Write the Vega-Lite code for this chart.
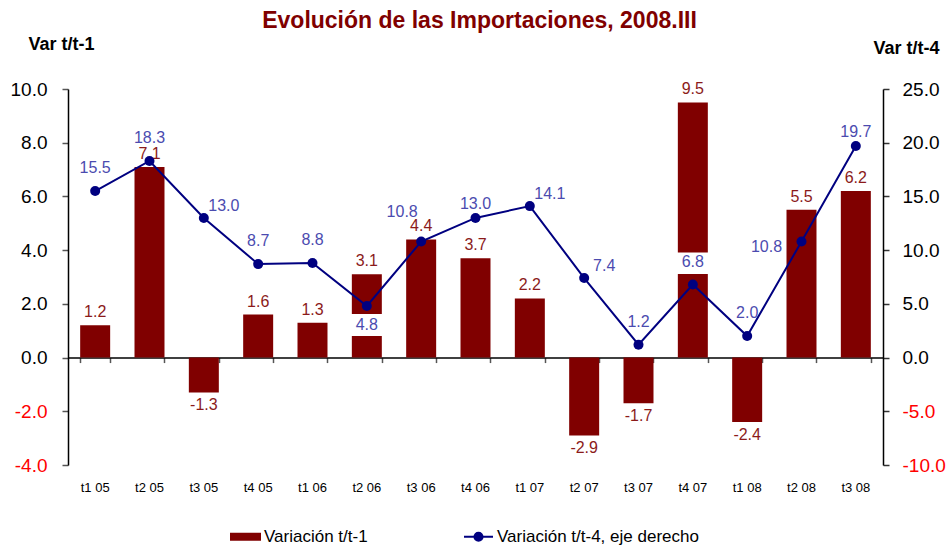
{
  "$schema": "https://vega.github.io/schema/vega-lite/v6.json",
  "width": 815,
  "height": 376,
  "autosize": {"type": "none"},
  "padding": {"left": 68, "top": 89, "right": 66, "bottom": 83},
  "background": "white",
  "config": {
    "view": {"stroke": null},
    "font": "Liberation Sans",
    "locale": {"number": {"decimal": ".", "thousands": ",", "grouping": [3], "currency": ["", ""], "minus": "-"}}
  },
  "title": {
    "text": "Evolución de las Importaciones, 2008.III",
    "font": "Liberation Sans",
    "fontSize": 23,
    "fontWeight": "bold",
    "color": "#800000",
    "anchor": "middle",
    "frame": "group",
    "offset": 2,
    "dx": 4
  },
  "data": {
    "values": [
      {"trimestre": "t1 05", "var_t1": 1.2, "var_t4": 15.5},
      {"trimestre": "t2 05", "var_t1": 7.1, "var_t4": 18.3},
      {"trimestre": "t3 05", "var_t1": -1.3, "var_t4": 13.0},
      {"trimestre": "t4 05", "var_t1": 1.6, "var_t4": 8.7},
      {"trimestre": "t1 06", "var_t1": 1.3, "var_t4": 8.8},
      {"trimestre": "t2 06", "var_t1": 3.1, "var_t4": 4.8},
      {"trimestre": "t3 06", "var_t1": 4.4, "var_t4": 10.8},
      {"trimestre": "t4 06", "var_t1": 3.7, "var_t4": 13.0},
      {"trimestre": "t1 07", "var_t1": 2.2, "var_t4": 14.1},
      {"trimestre": "t2 07", "var_t1": -2.9, "var_t4": 7.4},
      {"trimestre": "t3 07", "var_t1": -1.7, "var_t4": 1.2},
      {"trimestre": "t4 07", "var_t1": 9.5, "var_t4": 6.8},
      {"trimestre": "t1 08", "var_t1": -2.4, "var_t4": 2.0},
      {"trimestre": "t2 08", "var_t1": 5.5, "var_t4": 10.8},
      {"trimestre": "t3 08", "var_t1": 6.2, "var_t4": 19.7}
    ]
  },
  "layer": [
    {
      "encoding": {
        "x": {
          "field": "trimestre",
          "type": "nominal",
          "sort": null,
          "scale": {"type": "band", "paddingInner": 0.448, "paddingOuter": 0.224},
          "axis": {
            "orient": "bottom",
            "title": null,
            "domain": false,
            "ticks": false,
            "tickSize": 0,
            "labelAngle": 0,
            "labelFont": "Liberation Sans",
            "labelFontSize": 13,
            "labelColor": "black",
            "labelPadding": 16,
            "grid": false
          }
        },
        "y": {
          "field": "var_t1",
          "type": "quantitative",
          "scale": {"domain": [-4, 10], "nice": false, "zero": false},
          "axis": {
            "orient": "left",
            "values": [-4, -2, 0, 2, 4, 6, 8, 10],
            "format": ".1f",
            "grid": false,
            "domainColor": "black",
            "domainWidth": 1.5,
            "tickColor": "#555555",
            "tickSize": 6,
            "tickWidth": 1.5,
            "labelFont": "Liberation Sans",
            "labelFontSize": 19,
            "labelColor": {"condition": {"test": "datum.value < 0", "value": "#FF0000"}, "value": "black"},
            "labelPadding": 15,
            "title": "Var t/t-1",
            "titleAngle": 0,
            "titleFont": "Liberation Sans",
            "titleFontSize": 18,
            "titleFontWeight": "bold",
            "titleColor": "black",
            "titleAlign": "center",
            "titleBaseline": "alphabetic",
            "titleX": -7,
            "titleY": -40
          }
        }
      },
      "layer": [
        {
          "mark": {"type": "bar", "color": "#800000"},
          "encoding": {
            "color": {
              "datum": "Variación t/t-1",
              "scale": {
                "domain": ["Variación t/t-1", "Variación t/t-4, eje derecho"],
                "range": ["#800000", "#000080"]
              },
              "legend": {
                "title": null,
                "orient": "none",
                "direction": "horizontal",
                "legendX": 162,
                "legendY": 432,
                "symbolSize": 841,
                "labelFont": "Liberation Sans",
                "labelFontSize": 17,
                "labelColor": "black",
                "labelOffset": 3,
                "labelLimit": 0,
                "columnPadding": 92,
                "encode": {
                  "symbols": {
                    "update": {
                      "shape": [
                        {"test": "datum.value === 'Variación t/t-1'", "value": "M-1,-0.2H1V0.2H-1Z"},
                        {"value": "M-1,0H1M-0.28,0A0.28,0.28 0 1,1 0.28,0A0.28,0.28 0 1,1 -0.28,0Z"}
                      ],
                      "fill": [
                        {"test": "datum.value === 'Variación t/t-1'", "value": "#800000"},
                        {"value": "#000080"}
                      ],
                      "stroke": [
                        {"test": "datum.value === 'Variación t/t-1'", "value": "transparent"},
                        {"value": "#000080"}
                      ],
                      "strokeWidth": {"value": 2},
                      "size": {"value": 841},
                      "opacity": {"value": 1},
                      "fillOpacity": {"value": 1}
                    }
                  }
                }
              }
            }
          }
        },
        {
          "transform": [{"filter": {"field": "var_t1", "gte": 0}}],
          "mark": {"type": "text", "dy": -13, "baseline": "middle", "font": "Liberation Sans", "fontSize": 16, "color": "#8B1A1A"},
          "encoding": {"text": {"field": "var_t1", "type": "quantitative", "format": ".1f"}}
        },
        {
          "transform": [{"filter": {"field": "var_t1", "lt": 0}}],
          "mark": {"type": "text", "dy": 13, "baseline": "middle", "font": "Liberation Sans", "fontSize": 16, "color": "#8B1A1A"},
          "encoding": {"text": {"field": "var_t1", "type": "quantitative", "format": ".1f"}}
        }
      ]
    },
    {
      "encoding": {
        "x": {
          "field": "trimestre",
          "type": "nominal",
          "sort": null,
          "axis": {
            "orient": "bottom",
            "offset": -107.43,
            "title": null,
            "labels": false,
            "domain": true,
            "domainColor": "black",
            "domainWidth": 1.5,
            "ticks": true,
            "tickBand": "extent",
            "tickColor": "#555555",
            "tickSize": 5,
            "tickWidth": 1.5,
            "grid": false
          }
        },
        "y": {
          "field": "var_t4",
          "type": "quantitative",
          "scale": {"domain": [-10, 25], "nice": false, "zero": false},
          "axis": {
            "orient": "right",
            "values": [-10, -5, 0, 5, 10, 15, 20, 25],
            "format": ".1f",
            "grid": false,
            "domainColor": "black",
            "domainWidth": 1.5,
            "tickColor": "#333333",
            "tickSize": 6,
            "tickWidth": 1.5,
            "labelFont": "Liberation Sans",
            "labelFontSize": 19,
            "labelColor": {"condition": {"test": "datum.value < 0", "value": "#FF0000"}, "value": "black"},
            "labelPadding": 13,
            "title": "Var t/t-4",
            "titleAngle": 0,
            "titleFont": "Liberation Sans",
            "titleFontSize": 18,
            "titleFontWeight": "bold",
            "titleColor": "black",
            "titleAlign": "center",
            "titleBaseline": "alphabetic",
            "titleX": 23,
            "titleY": -36
          }
        }
      },
      "layer": [
        {
          "transform": [{"filter": {"field": "trimestre", "oneOf": ["t2 06"]}}],
          "mark": {"type": "point", "filled": true, "color": "white", "opacity": 1, "strokeWidth": 0, "size": 400, "shape": "M-1.6,0.8H1.6V3.0H-1.6Z"}
        },
        {
          "transform": [{"filter": {"field": "trimestre", "oneOf": ["t4 07"]}}],
          "mark": {"type": "point", "filled": true, "color": "white", "opacity": 1, "strokeWidth": 0, "size": 400, "shape": "M-1.6,-3.2H1.6V-1.06H-1.6Z"}
        },
        {
          "mark": {"type": "line", "strokeWidth": 2},
          "encoding": {"color": {"datum": "Variación t/t-4, eje derecho"}}
        },
        {
          "mark": {"type": "point", "filled": true, "color": "#000080", "opacity": 1, "size": 100}
        },
        {
          "transform": [{"filter": {"field": "trimestre", "oneOf": ["t1 05", "t2 05", "t4 05", "t1 06", "t3 07", "t4 07", "t1 08"]}}],
          "mark": {"type": "text", "dy": -23, "baseline": "middle", "font": "Liberation Sans", "fontSize": 16, "color": "#4B4BAF"},
          "encoding": {"text": {"field": "var_t4", "type": "quantitative", "format": ".1f"}}
        },
        {
          "transform": [{"filter": {"field": "trimestre", "oneOf": ["t4 06", "t3 08"]}}],
          "mark": {"type": "text", "dy": -14, "baseline": "middle", "font": "Liberation Sans", "fontSize": 16, "color": "#4B4BAF"},
          "encoding": {"text": {"field": "var_t4", "type": "quantitative", "format": ".1f"}}
        },
        {
          "transform": [{"filter": {"field": "trimestre", "oneOf": ["t3 05", "t1 07", "t2 07"]}}],
          "mark": {"type": "text", "dx": 20, "dy": -12, "baseline": "middle", "font": "Liberation Sans", "fontSize": 16, "color": "#4B4BAF"},
          "encoding": {"text": {"field": "var_t4", "type": "quantitative", "format": ".1f"}}
        },
        {
          "transform": [{"filter": {"field": "trimestre", "oneOf": ["t3 06"]}}],
          "mark": {"type": "text", "dx": -19, "dy": -30, "baseline": "middle", "font": "Liberation Sans", "fontSize": 16, "color": "#4B4BAF"},
          "encoding": {"text": {"field": "var_t4", "type": "quantitative", "format": ".1f"}}
        },
        {
          "transform": [{"filter": {"field": "trimestre", "oneOf": ["t2 08"]}}],
          "mark": {"type": "text", "dx": -35, "dy": 5, "baseline": "middle", "font": "Liberation Sans", "fontSize": 16, "color": "#4B4BAF"},
          "encoding": {"text": {"field": "var_t4", "type": "quantitative", "format": ".1f"}}
        },
        {
          "transform": [{"filter": {"field": "trimestre", "oneOf": ["t2 06"]}}],
          "mark": {"type": "text", "dy": 19, "baseline": "middle", "font": "Liberation Sans", "fontSize": 16, "color": "#4B4BAF"},
          "encoding": {"text": {"field": "var_t4", "type": "quantitative", "format": ".1f"}}
        }
      ]
    }
  ],
  "resolve": {"scale": {"y": "independent"}, "axis": {"x": "independent"}}
}
